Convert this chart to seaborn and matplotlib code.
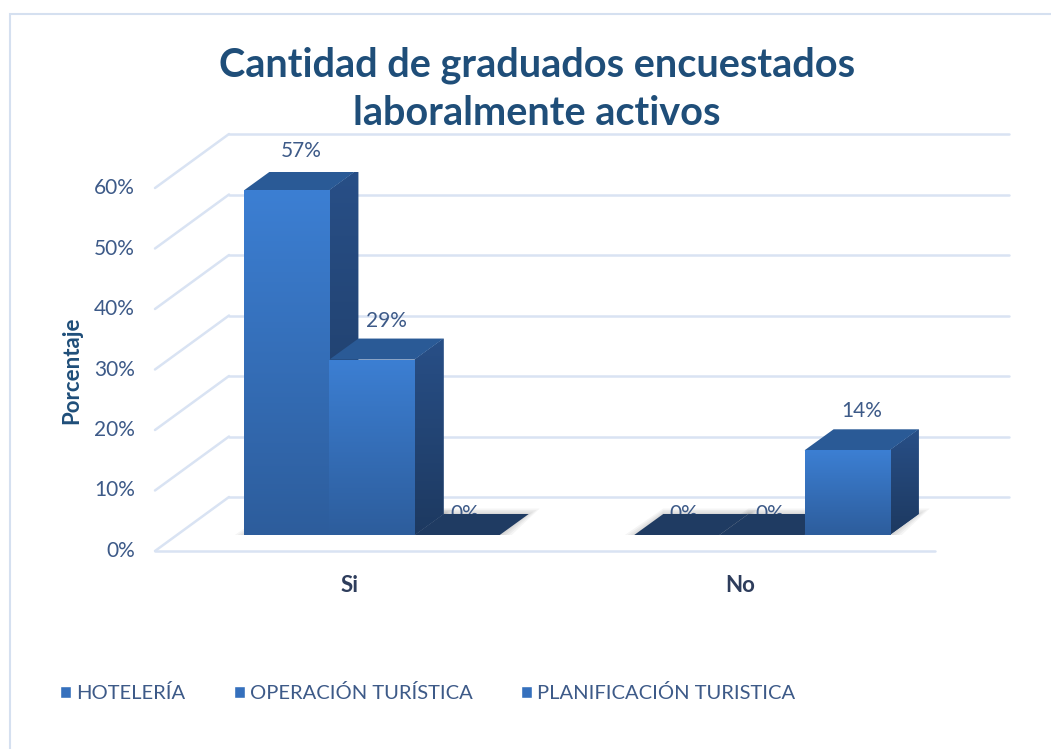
import numpy as np
import pandas as pd
import matplotlib.pyplot as plt
from matplotlib.patches import Polygon, Rectangle
from matplotlib.colors import LinearSegmentedColormap
import seaborn as sns

# data
respuestas = ['Si', 'No']
carreras = ['HOTELERÍA', 'OPERACIÓN TURÍSTICA', 'PLANIFICACIÓN TURISTICA']
hoteleria = [0.57, 0.0]
operacion = [0.29, 0.0]
planificacion = [0.0, 0.14]
ticks = [0, 0.1, 0.2, 0.3, 0.4, 0.5, 0.6]

df = pd.DataFrame({'Respuesta': respuestas * 3,
                   'Carrera': np.repeat(carreras, 2),
                   'Porcentaje': hoteleria + operacion + planificacion})

sns.set_theme(style='white')
plt.rcParams['font.family'] = ['Lato', 'DejaVu Sans']

W, H = 1051, 749
fig = plt.figure(figsize=(W / 100, H / 100), dpi=100)
ax = fig.add_axes([177 / W, (H - 535) / H, 780 / W, 363 / H])

bar_c = '#3a78c9'
sns.barplot(data=df, x='Respuesta', y='Porcentaje', hue='Carrera',
            palette=[bar_c] * 3, width=0.655, saturation=1, ax=ax)
ax.get_legend().remove()
ax.set_xlim(-0.5, 1.5)
ax.set_ylim(0, 0.6)
ax.axis('off')

grid_c = '#d9e3f3'
tick_c = '#3d5a88'
navy = '#1f4e79'

# pixel -> data units
x0, x1 = ax.get_xlim()
y0, y1 = ax.get_ylim()
ux = (x1 - x0) / ax.bbox.width
uy = (y1 - y0) / ax.bbox.height

FRONT = (-22, -16)   # front edge of the floor, relative to bar plane (px)
BACK = (52, 38)      # back wall, relative to bar plane (px)
DX, DY = 29, 21      # bar depth (px)

# walls / gridlines
for v in ticks:
    ax.plot([x0 + FRONT[0] * ux, x0 + BACK[0] * ux],
            [v + FRONT[1] * uy, v + BACK[1] * uy],
            color=grid_c, lw=1.8, clip_on=False, zorder=0)
    ax.plot([x0 + BACK[0] * ux, x1 + BACK[0] * ux],
            [v + BACK[1] * uy] * 2,
            color=grid_c, lw=1.8, clip_on=False, zorder=0)
    ax.text(x0 + FRONT[0] * ux - 20 * ux, v + FRONT[1] * uy, f'{int(round(v * 100))}%',
            ha='right', va='center', fontsize=15, color=tick_c)
ax.plot([x0 + FRONT[0] * ux, x1 + FRONT[0] * ux], [FRONT[1] * uy] * 2,
        color=grid_c, lw=1.8, clip_on=False, zorder=0)

# category labels
for pos, lab in enumerate(respuestas):
    ax.text(pos + FRONT[0] * ux, FRONT[1] * uy - 35 * uy, lab, ha='center', va='center',
            fontsize=16, fontweight='bold', color='#2e3d5c')

front_cmap = LinearSegmentedColormap.from_list('front', ['#2d5d9c', '#3c7fd3'])
side_cmap = LinearSegmentedColormap.from_list('side', ['#1d3960', '#284f87'])
grad = np.linspace(0, 1, 256).reshape(-1, 1)

bars = sorted([p for p in ax.patches if p.get_width() > 0], key=lambda p: p.get_x())
dx, dy = DX * ux, DY * uy
for i, p in enumerate(bars):
    x, w, h = p.get_x(), p.get_width(), p.get_height()
    z = 3 + 4 * i
    # soft shadow at the base
    for k in range(4):
        e = (2 + 3 * k)
        sh = Polygon([(x - e * ux, -1 * uy), (x + w + e * ux, -1 * uy),
                      (x + w + dx + e * ux, dy + 0.5 * e * uy), (x + dx, dy + 0.5 * e * uy)],
                     fc='black', alpha=0.04, lw=0, zorder=1)
        ax.add_patch(sh)
    if h > 0:
        side = Polygon([(x + w, 0), (x + w + dx, dy), (x + w + dx, h + dy), (x + w, h)],
                       fc='#244b80', lw=0, zorder=z)
        ax.add_patch(side)
        im = ax.imshow(grad, extent=[x + w, x + w + dx, 0, h + dy], origin='lower',
                       cmap=side_cmap, aspect='auto', zorder=z + 0.5)
        im.set_clip_path(side)
        top = Polygon([(x, h), (x + w, h), (x + w + dx, h + dy), (x + dx, h + dy)],
                      fc='#2a5a96', lw=0, zorder=z + 1)
        ax.add_patch(top)
        p.set_zorder(z + 2)
        p.set_linewidth(0)
        im = ax.imshow(grad, extent=[x, x + w, 0, h], origin='lower',
                       cmap=front_cmap, aspect='auto', zorder=z + 2.5)
        im.set_clip_path(p)
        ax.text(x + w / 2 + dx / 2, h + dy + 8 * uy, f'{int(round(h * 100))}%',
                ha='center', va='bottom', fontsize=15, color=tick_c, zorder=60)
    else:
        flat = Polygon([(x, 0), (x + w, 0), (x + w + dx, dy), (x + dx, dy)],
                       fc='#1f3b62', lw=0, zorder=z + 1)
        ax.add_patch(flat)
        ax.text(x + w / 2 + dx / 4, dy - 10 * uy, '0%',
                ha='center', va='bottom', fontsize=15, color=tick_c, zorder=z)

ax.set_xlim(x0, x1)
ax.set_ylim(y0, y1)

# title and axis label
fig.text(537 / W, 1 - 89 / H, 'Cantidad de graduados encuestados\nlaboralmente activos',
         ha='center', va='center', fontsize=28.5, fontweight='bold', color=navy, linespacing=1.38)
fig.text(72 / W, 1 - 370 / H, 'Porcentaje', rotation=90, ha='center', va='center',
         fontsize=16, fontweight='bold', color=navy)

# legend
handles = [Rectangle((0, 0), 1, 1, fc='#3570bd') for _ in carreras]
fig.legend(handles, carreras, loc='center left', bbox_to_anchor=(42 / W, 1 - 693 / H),
           ncol=3, frameon=False, handlelength=0.55, handleheight=0.55, handletextpad=0.25,
           columnspacing=2.4, fontsize=14.5, labelcolor=tick_c)

# outer frame
fig.add_artist(Rectangle((10 / W, -0.1), 1.2, 1.1 - 14 / H, transform=fig.transFigure,
                         fill=False, ec='#d5e0f0', lw=1.5))

fig.savefig('out.png', dpi=100)
